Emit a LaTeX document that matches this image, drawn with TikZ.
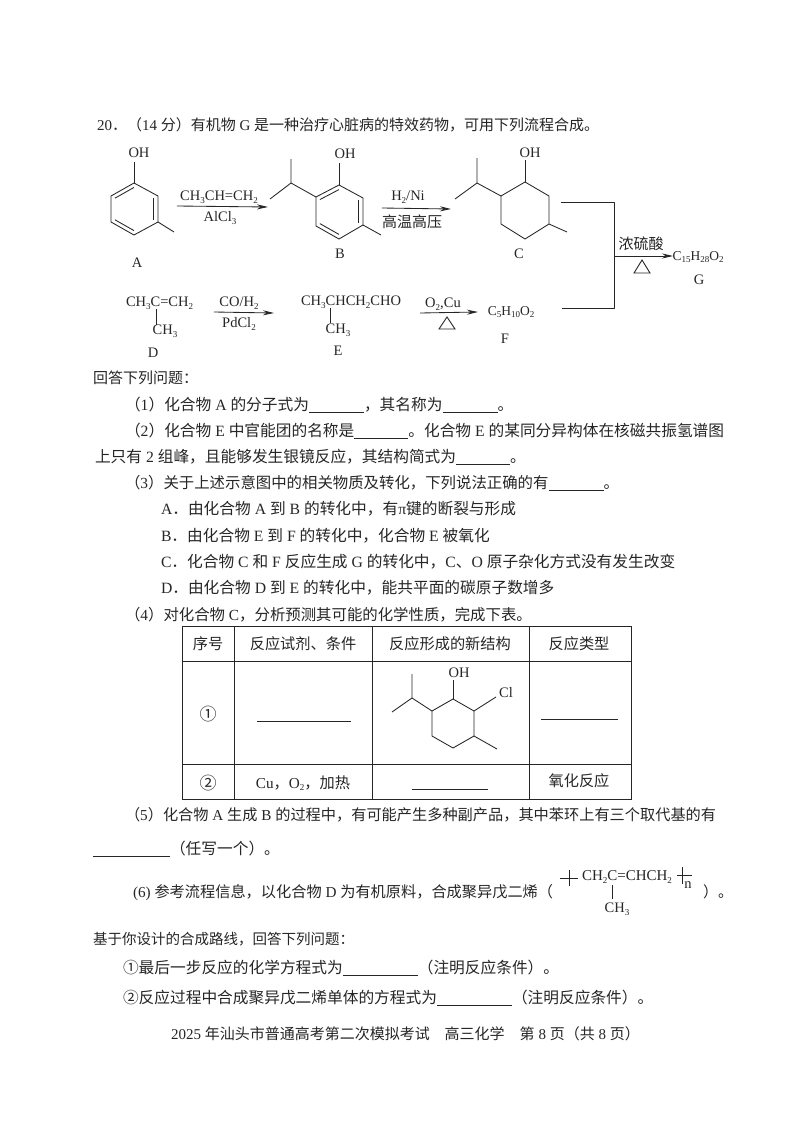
\documentclass[tikz,border=0pt]{standalone}
\usepackage{fontspec}
\setmainfont{Liberation Serif}
\newfontfamily\cjk{Noto Sans CJK SC}
\usetikzlibrary{arrows.meta,calc}
\newcommand\C[1]{{\cjk #1}}
\newcommand\bl[1]{\rule[-2.5pt]{#1pt}{0.8pt}}
\newcommand\sbs[1]{\raisebox{-2.5pt}{\fontsize{9}{9}\selectfont #1}}
\newcommand\fs[1]{\fontsize{#1}{17}\selectfont}
\definecolor{ink}{HTML}{262626}
\tikzset{
  txt/.style={inner sep=0pt,outer sep=0pt,anchor=base west,text=ink,font=\fontsize{15.7}{17}\selectfont},
  chem/.style={inner sep=0pt,outer sep=0pt,text=ink,font=\fontsize{14.5}{15}\selectfont},
  lbl/.style={chem,font=\fontsize{14.5}{15}\selectfont},
  bond/.style={draw=ink,line width=0.85pt,line join=round},
  rxn/.style={draw=ink,line width=0.85pt,-{Stealth[length=11pt,width=5pt]}},
  tri/.style={draw=ink,line width=0.9pt,line join=miter},
  tab/.style={draw=ink,line width=0.95pt}
}
% six ring: name prefix, top, UR, LR, bottom, LL, UL
\newcommand\ringat[7]{%
  \coordinate (#1t) at #2; \coordinate (#1ur) at #3; \coordinate (#1lr) at #4;
  \coordinate (#1b) at #5; \coordinate (#1ll) at #6; \coordinate (#1ul) at #7;
  \coordinate (#1c) at ($(#1t)!.5!(#1b)$);
  \draw[bond] (#1t)--(#1ur)--(#1lr)--(#1b)--(#1ll)--(#1ul)--cycle;}
\newcommand\arom[1]{%
  \draw[bond] ($(#1ul)!.17!(#1c)$)--($(#1t)!.17!(#1c)$);
  \draw[bond] ($(#1ur)!.17!(#1c)$)--($(#1lr)!.17!(#1c)$);
  \draw[bond] ($(#1ll)!.17!(#1c)$)--($(#1b)!.17!(#1c)$);}
\begin{document}
\begin{tikzpicture}[x=1pt,y=-1pt]
\useasboundingbox (0,0) rectangle (800,1132);
\fill[white] (0,0) rectangle (800,1132);

% heading
\node[txt,font=\fs{15}] (l1) at (97,130) {20\C{．（}14 \C{分）有机物} G \C{是一种治疗心脏病的特效药物，可用下列流程合成。}};

% A
\ringat{a}{(134,183)}{(158,196)}{(158,222)}{(134,235)}{(111,222)}{(111,196)}
\arom{a}
\coordinate (aoh) at (134,162); \coordinate (ame) at (174,232);
\draw[bond] (at)--(aoh); \draw[bond] (alr)--(ame);
\node[chem] (aOH) at (139,153) {OH};
\node[lbl] (aL) at (137,263) {A};

% B
\ringat{b}{(339,185)}{(363,198)}{(363,225)}{(339,239)}{(316,226)}{(316,197)}
\arom{b}
\coordinate (boh) at (339,163); \coordinate (bme) at (381,235);
\coordinate (bip) at (291,183); \coordinate (bip1) at (291,159); \coordinate (bip2) at (270,199);
\draw[bond] (bt)--(boh); \draw[bond] (blr)--(bme);
\draw[bond] (bul)--(bip)--(bip1); \draw[bond] (bip)--(bip2);
\node[chem] (bOH) at (345,154) {OH};
\node[lbl] (bL) at (340,254) {B};

% C
\ringat{c}{(525,182)}{(549,196)}{(549,224)}{(525,239)}{(501,224)}{(501,196)}
\coordinate (coh) at (525,160); \coordinate (cme) at (567,232);
\coordinate (cip) at (477,183); \coordinate (cip1) at (477,158); \coordinate (cip2) at (455,199);
\draw[bond] (ct)--(coh); \draw[bond] (clr)--(cme);
\draw[bond] (cul)--(cip)--(cip1); \draw[bond] (cip)--(cip2);
\node[chem] (cOH) at (530,153) {OH};
\node[lbl] (cL) at (519,254) {C};

% arrows row 1
\coordinate (r1a) at (177,206); \coordinate (r1b) at (268,207);
\draw[rxn] (r1a)--(r1b);
\node[chem] (r1t) at (219,197) {CH\sbs{3}CH=CH\sbs{2}};
\node[chem] (r1u) at (220,218) {AlCl\sbs{3}};
\coordinate (r2a) at (382,208); \coordinate (r2b) at (451,209);
\draw[rxn] (r2a)--(r2b);
\node[chem] (r2t) at (408,197) {H\sbs{2}/Ni};
\node[chem,font=\fs{15}] (r2u) at (412,222) {\C{高温高压}};

% bracket + product
\coordinate (bk1) at (561,202); \coordinate (bk2) at (614,202);
\coordinate (bk3) at (614,308); \coordinate (bk4) at (562,308);
\draw[bond] (bk1)--(bk2)--(bk3)--(bk4);
\coordinate (bkm) at (614,256); \coordinate (bke) at (673,256);
\draw[rxn] (bkm)--(bke);
\node[chem,font=\fs{15}] (cat) at (641,244) {\C{浓硫酸}};
\coordinate (t1) at (642,260); \coordinate (t2) at (634,273); \coordinate (t3) at (650,273);
\draw[tri] (t1)--(t2)--(t3)--cycle;
\node[chem,font=\fs{13.5}] (G) at (698,257) {C\sbs{15}H\sbs{28}O\sbs{2}};
\node[lbl] (gL) at (699,280) {G};

% row 2
\node[chem,anchor=west] (D) at (126,303) {CH\sbs{3}C=CH\sbs{2}};
\coordinate (d1) at (156,309); \coordinate (d2) at (156,325);
\draw[bond] (d1)--(d2);
\node[chem] (dm) at (165,331) {CH\sbs{3}};
\node[lbl] (dL) at (153,353) {D};
\coordinate (r3a) at (214,312); \coordinate (r3b) at (274,313);
\draw[rxn] (r3a)--(r3b);
\node[chem] (r3t) at (239,303) {CO/H\sbs{2}};
\node[chem] (r3u) at (239,324) {PdCl\sbs{2}};
\node[chem,anchor=west] (E) at (301,302) {CH\sbs{3}CHCH\sbs{2}CHO};
\coordinate (e1) at (330,308); \coordinate (e2) at (330,323);
\draw[bond] (e1)--(e2);
\node[chem] (em) at (338,330) {CH\sbs{3}};
\node[lbl] (eL) at (338,351) {E};
\coordinate (r4a) at (420,313); \coordinate (r4b) at (478,312);
\draw[rxn] (r4a)--(r4b);
\node[chem] (r4t) at (443,304) {O\sbs{2},Cu};
\coordinate (u1) at (447,317); \coordinate (u2) at (439,329); \coordinate (u3) at (455,329);
\draw[tri] (u1)--(u2)--(u3)--cycle;
\node[chem,font=\fs{13.5}] (F) at (511,312) {C\sbs{5}H\sbs{10}O\sbs{2}};
\node[lbl] (fL) at (505,339) {F};

% questions
\node[txt,font=\fs{15}] (q0) at (93,383) {\C{回答下列问题：}};
\node[txt] (q1) at (125,410) {\C{（}1\C{）化合物} A \C{的分子式为}\bl{55}\C{，其名称为}\bl{55}\C{。}};
\node[txt] (q2) at (125,436) {\C{（}2\C{）化合物} E \C{中官能团的名称是}\bl{54}\C{。化合物} E \C{的某同分异构体在核磁共振氢谱图}};
\node[txt] (q2b) at (95,462) {\C{上只有} 2 \C{组峰，且能够发生银镜反应，其结构简式为}\bl{54}\C{。}};
\node[txt,font=\fs{15.4}] (q3) at (125,488) {\C{（}3\C{）关于上述示意图中的相关物质及转化，下列说法正确的有}\bl{55}\C{。}};
\node[txt] (qa) at (161,514) {A\C{．由化合物} A \C{到} B \C{的转化中，有}π\C{键的断裂与形成}};
\node[txt] (qb) at (161,541) {B\C{．由化合物} E \C{到} F \C{的转化中，化合物} E \C{被氧化}};
\node[txt] (qc) at (161,567) {C\C{．化合物} C \C{和} F \C{反应生成} G \C{的转化中，}C\C{、}O \C{原子杂化方式没有发生改变}};
\node[txt] (qd) at (161,593) {D\C{．由化合物} D \C{到} E \C{的转化中，能共平面的碳原子数增多}};
\node[txt,font=\fs{15.4}] (q4) at (125,620) {\C{（}4\C{）对化合物} C\C{，分析预测其可能的化学性质，完成下表。}};

% table
\draw[tab] (182,626) rectangle (631,799);
\draw[tab] (182,661)--(631,661);
\draw[tab] (182,764)--(631,764);
\draw[tab] (234,626)--(234,799);
\draw[tab] (372,626)--(372,799);
\draw[tab] (529,626)--(529,799);
\node[chem,font=\fs{15.2}] (h1) at (208,644) {\C{序号}};
\node[chem,font=\fs{15.2}] (h2) at (303,644) {\C{反应试剂、条件}};
\node[chem,font=\fs{15.2}] (h3) at (450,644) {\C{反应形成的新结构}};
\node[chem,font=\fs{15.2}] (h4) at (579,644) {\C{反应类型}};
\node[chem,font=\fs{17}] (n1) at (208,714) {\C{①}};
\node[chem,font=\fs{17}] (n2) at (208,783) {\C{②}};
\coordinate (f1a) at (257,721); \coordinate (f1b) at (351,721); \draw[bond,line width=0.7pt] (f1a)--(f1b);
\coordinate (f2a) at (541,719); \coordinate (f2b) at (618,719); \draw[bond,line width=0.7pt] (f2a)--(f2b);
\coordinate (f3a) at (412,789); \coordinate (f3b) at (488,789); \draw[bond,line width=0.7pt] (f3a)--(f3b);
\node[chem,font=\fs{15.2}] (c2) at (303,783) {Cu\C{，}O\sbs{2}\C{，加热}};
\node[chem,font=\fs{15.2}] (c4) at (579,781) {\C{氧化反应}};
\ringat{s}{(453,699)}{(474,711)}{(474,736)}{(453,748)}{(432,736)}{(432,711)}
\coordinate (soh) at (453,680); \coordinate (scl) at (496,697); \coordinate (sme) at (497,749);
\coordinate (sip) at (412,698); \coordinate (sip1) at (412,674); \coordinate (sip2) at (392,712);
\draw[bond] (st)--(soh); \draw[bond] (sur)--(scl); \draw[bond] (slr)--(sme);
\draw[bond] (sul)--(sip)--(sip1); \draw[bond] (sip)--(sip2);
\node[chem] (sOH) at (459,673) {OH};
\node[chem] (sCl) at (506,693) {Cl};

% (5)
\node[txt,font=\fs{15.2}] (q5) at (125,820) {\C{（}5\C{）化合物} A \C{生成} B \C{的过程中，有可能产生多种副产品，其中苯环上有三个取代基的有}};
\node[txt] (q5b) at (93,854) {\bl{77}\C{（任写一个）。}};

% (6)
\node[txt,font=\fs{15.2}] (q6) at (133,897) {(6) \C{参考流程信息，以化合物} D \C{为有机原料，合成聚异戊二烯（}};
\node[chem,anchor=west,font=\fs{15}] (poly) at (582,877) {CH\sbs{2}C=CHCH\sbs{2}};
\coordinate (pl1) at (560,878); \coordinate (pl2) at (578,878); \coordinate (pl3) at (569,870); \coordinate (pl4) at (569,886);
\draw[bond] (pl1)--(pl2); \draw[bond] (pl3)--(pl4);
\coordinate (pr1) at (677,875); \coordinate (pr2) at (692,875); \coordinate (pr3) at (682,867); \coordinate (pr4) at (682,884);
\draw[bond] (pr1)--(pr2); \draw[bond] (pr3)--(pr4);
\node[chem] (pn) at (688,885) {n};
\coordinate (pb1) at (612,885); \coordinate (pb2) at (612,899);
\draw[bond] (pb1)--(pb2);
\node[chem] (pm) at (617,909) {CH\sbs{3}};
\node[txt,font=\fs{15}] (pe) at (703,897) {\C{）。}};

\node[txt,font=\fs{14.5}] (q7) at (93,944) {\C{基于你设计的合成路线，回答下列问题：}};
\node[txt] (q8) at (123,973) {\C{①最后一步反应的化学方程式为}\bl{75}\C{（注明反应条件）。}};
\node[txt] (q9) at (123,1003) {\C{②反应过程中合成聚异戊二烯单体的方程式为}\bl{75}\C{（注明反应条件）。}};
\node[txt,font=\fs{15}] (foot) at (171,1039) {2025 \C{年汕头市普通高考第二次模拟考试\quad 高三化学\quad 第} 8 \C{页（共} 8 \C{页）}};
\end{tikzpicture}
\end{document}
